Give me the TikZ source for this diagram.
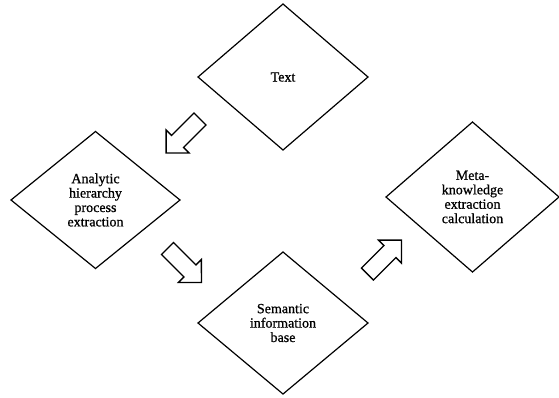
\documentclass[tikz,border=0pt]{standalone}
\usepackage{fontspec}
\setmainfont{Liberation Serif}[FakeBold=0.8]
\usetikzlibrary{shapes.geometric,shapes.arrows}

\begin{document}
\begin{tikzpicture}[x=0.75pt,y=-0.75pt,
  stage/.style={draw,diamond,inner sep=0pt,outer sep=0pt,align=center,
    font=\fontsize{10.5}{10.8}\selectfont,line width=0.9pt},
  flow/.style={draw,single arrow,single arrow head extend=5.8pt,
    inner sep=5.85pt,minimum height=36pt,anchor=tail,line width=1pt}]
\useasboundingbox (0,0) rectangle (559,397);

\node[stage,minimum width=127.5pt,minimum height=109.5pt] (text) at (283,77) {Text};
\node[stage,minimum width=126.75pt,minimum height=102.75pt] (ahp) at (95.5,200)
  {Analytic\\hierarchy\\process\\extraction};
\node[stage,minimum width=127.5pt,minimum height=106.5pt] (sib) at (283,323)
  {Semantic\\information\\base};
\node[stage,minimum width=129.75pt,minimum height=112.5pt] (meta) at (472.5,197)
  {Meta-\\knowledge\\extraction\\calculation};

% block arrows between the stages
\node[flow,rotate=225] (a1) at (200.5,118.5) {};
\node[flow,rotate=-45] (a2) at (167,248) {};
\node[flow,rotate=45] (a3) at (367,274.5) {};
\end{tikzpicture}
\end{document}
